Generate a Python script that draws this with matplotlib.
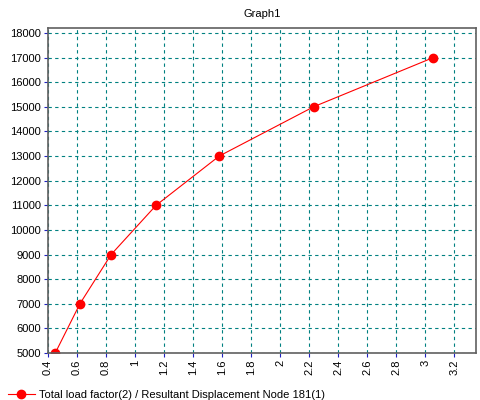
import matplotlib
matplotlib.use('Agg')
import matplotlib.pyplot as plt

plt.rcParams.update({
    'font.family': ['Liberation Sans', 'DejaVu Sans'],
    'font.size': 8,
})

# data
displacement = [0.45, 0.62, 0.835, 1.145, 1.58, 2.23, 3.055]
load_factor = [5000, 7000, 9000, 11000, 13000, 15000, 17000]
x_ticks = [0.4, 0.6, 0.8, 1, 1.2, 1.4, 1.6, 1.8, 2, 2.2, 2.4, 2.6, 2.8, 3, 3.2]
y_ticks = list(range(5000, 18001, 1000))
series_label = 'Total load factor(2) / Resultant Displacement Node 181(1)'

fig = plt.figure(figsize=(4.8, 4.0), dpi=100)
ax = fig.add_axes([0.1, 0.1175, 0.892, 0.8125])

ax.plot(displacement, load_factor, color='red', linewidth=0.8,
        marker='o', markersize=6, label=series_label)

ax.set_xlim(0.4, 3.35)
ax.set_ylim(5000, 18200)
ax.set_xticks(x_ticks)
ax.set_xticklabels([f'{t:g}' for t in x_ticks], rotation=90)
ax.set_yticks(y_ticks)
ax.set_yticklabels([str(t) for t in y_ticks])

ax.grid(True, color='#008080', linestyle=(0, (3, 3)), linewidth=0.8)
ax.tick_params(direction='out', length=3, color='#2020c0', labelsize=8, pad=2)
for s in ax.spines.values():
    s.set_color('#606060')
    s.set_linewidth(1.2)

ax.set_title('Graph1', fontsize=8, pad=8)
fig.legend(loc='lower left', bbox_to_anchor=(-0.005, -0.025), frameon=False,
           handlelength=2.5, handletextpad=0.3, fontsize=8)

fig.savefig('out.png', dpi=100, facecolor='white')
